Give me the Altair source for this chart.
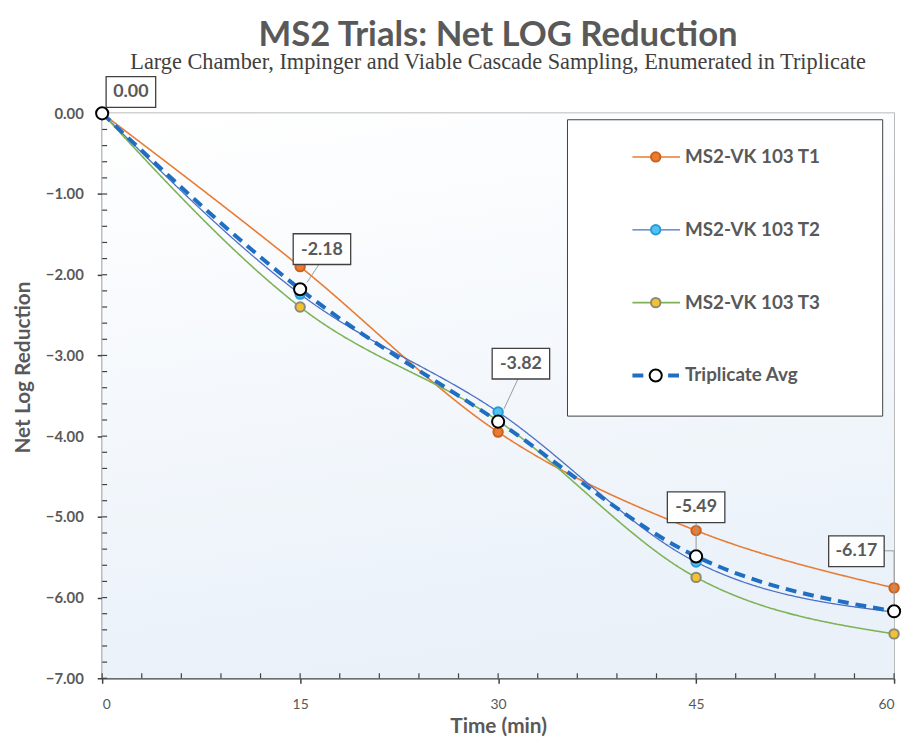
import altair as alt
import pandas as pd

# ---------------- data ----------------
times = [0, 15, 30, 45, 60]
t1 = [0.00, -1.90, -3.95, -5.17, -5.88]
t2 = [0.00, -2.24, -3.70, -5.56, -6.18]
t3 = [0.00, -2.40, -3.81, -5.75, -6.45]
avg = [0.00, -2.18, -3.82, -5.49, -6.17]
series = ["MS2-VK 103 T1", "MS2-VK 103 T2", "MS2-VK 103 T3", "Triplicate Avg"]
x_ticks = [0, 15, 30, 45, 60]
x_minor = [3, 6, 9, 12, 18, 21, 24, 27, 33, 36, 39, 42, 48, 51, 54, 57]
y_ticks = [0, -1, -2, -3, -4, -5, -6, -7]
y_minor = [t - k * 0.2 for t in y_ticks[:-1] for k in (1, 2, 3, 4)]

title_text = "MS2 Trials: Net LOG Reduction"
subtitle_text = "Large Chamber, Impinger and Viable Cascade Sampling, Enumerated in Triplicate"

# ---------------- styles ----------------
W, H = 799, 570
line_colors = ["#E97B33", "#4A6FC4", "#7DB356", "#1F6EC2"]
line_widths = [1.6, 1.3, 1.6, 4.0]
line_dashes = [[1, 0], [1, 0], [1, 0], [11, 7]]
marker_fill = ["#EC7B30", "#4CC3F2", "#F2C230", "#FFFFFF"]
marker_stroke = ["#C9611F", "#2A9BD6", "#8A8A7A", "#000000"]
marker_size = [90, 90, 90, 150]
FONT = "Lato"
GRAY = "#595959"
AXC = "#404040"

# label box / leader / text offsets (pixels relative to the point)
label_box = [(4, -37, 54, -6), (-7, -56, 51, -25), (-6, -74, 52, -43),
             (-29, -65, 29, -34), (-66, -76, -10, -45)]
label_leader = [None, "M19,-25L7,-7", "M20,-43L6,-13", "M0,-34L0,-7",
                "M-10,-61L0,-61L0,-7"]
label_text_off = [(29, -21), (22, -40), (23, -58.5), (0, -49.5), (-38, -60.5)]

rows = []
for name, vals in zip(series, [t1, t2, t3, avg]):
    for t, v in zip(times, vals):
        rows.append({"series": name, "time": t, "value": v})
df = pd.DataFrame(rows)

x_axis = alt.Axis(values=x_ticks, title="Time (min)", labelFontWeight="normal",
                  labelFontSize=14, labelPadding=15, titleFontSize=21, titlePadding=4,
                  tickSize=5)
y_axis = alt.Axis(values=y_ticks, format=".2f", title="Net Log Reduction",
                  labelFontWeight="bold", labelFontSize=15, labelPadding=14,
                  titleFontSize=21, titlePadding=12, titleY=256, tickSize=5)

x_enc = alt.X("time:Q", scale=alt.Scale(domain=[0, 60], nice=False, zero=False), axis=x_axis)
y_enc = alt.Y("value:Q", scale=alt.Scale(domain=[-7, 0], nice=False), axis=y_axis)

common_legend = dict(orient="none", labelFont=FONT, labelFontSize=19, labelFontWeight="bold",
                     labelLimit=400, rowPadding=54.5, clipHeight=16)
legend_a = alt.Legend(legendX=469, legendY=6, title=" ", titleOrient="right",
                      titlePadding=32, padding=30, strokeColor=AXC, fillColor="white",
                      symbolType="stroke", symbolSize=2304, symbolOffset=34,
                      labelColor=GRAY, labelOffset=3, **common_legend)
legend_b = alt.Legend(legendX=549, legendY=36, title=None, padding=0,
                      symbolType="circle", symbolStrokeWidth=2, labelExpr="''",
                      **common_legend)

gradient = alt.LinearGradient(
    gradient="linear",
    stops=[alt.GradientStop(color="#FFFFFF", offset=0),
           alt.GradientStop(color="#EAF1F9", offset=1)],
    x1=0, x2=0.2, y1=0, y2=1)

bg = alt.Chart(pd.DataFrame({"a": [0]})).mark_rect(fill=gradient).encode(
    x=alt.datum(0), x2=alt.datum(60), y=alt.datum(0), y2=alt.datum(-7))

xminor = alt.Chart(pd.DataFrame({"t": x_minor + x_ticks})).mark_rule(
    color=AXC, strokeWidth=1.2).encode(x="t:Q", y=alt.value(H - 5), y2=alt.value(H))
yminor = alt.Chart(pd.DataFrame({"v": y_minor + y_ticks})).mark_rule(
    color=AXC, strokeWidth=1.2).encode(y="v:Q", x=alt.value(0), x2=alt.value(5))

lines = alt.Chart(df).mark_line(interpolate="monotone").encode(
    x=x_enc, y=y_enc,
    stroke=alt.Stroke("series:N", scale=alt.Scale(domain=series, range=line_colors), legend=legend_a),
    strokeDash=alt.StrokeDash("series:N", scale=alt.Scale(domain=series, range=line_dashes), legend=legend_a),
    strokeWidth=alt.StrokeWidth("series:N", scale=alt.Scale(type="ordinal", domain=series, range=line_widths), legend=legend_a),
)

points = alt.Chart(df).mark_point(filled=True, opacity=1, strokeWidth=2).encode(
    x="time:Q", y="value:Q",
    fill=alt.Fill("series:N", scale=alt.Scale(domain=series, range=marker_fill), legend=legend_b),
    stroke=alt.Stroke("series:N", scale=alt.Scale(domain=series, range=marker_stroke), legend=legend_b),
    size=alt.Size("series:N", scale=alt.Scale(type="ordinal", domain=series, range=marker_size), legend=legend_b),
)

label_layers = []
for i in range(len(times)):
    d = pd.DataFrame({"time": [times[i]], "value": [avg[i]], "label": [f"{avg[i]:.2f}"]})
    x0, y0, x1, y1 = label_box[i]
    box_path = f"M{x0},{y0}H{x1}V{y1}H{x0}Z"
    if label_leader[i]:
        label_layers.append(alt.Chart(d).mark_point(
            shape=label_leader[i], size=4, filled=False, stroke="#9A9A9A",
            strokeWidth=1, opacity=1).encode(x="time:Q", y="value:Q"))
    label_layers.append(alt.Chart(d).mark_point(
        shape=box_path, size=4, filled=True, fill="white", stroke=AXC,
        strokeWidth=1.3, opacity=1).encode(x="time:Q", y="value:Q"))
    label_layers.append(alt.Chart(d).mark_text(
        dx=label_text_off[i][0], dy=label_text_off[i][1], font=FONT, fontSize=18,
        fontWeight="bold", color=GRAY, align="center", baseline="middle").encode(
        x="time:Q", y="value:Q", text="label:N"))

chart = alt.layer(bg, lines, xminor, yminor, points, *label_layers).resolve_scale(
    stroke="independent", strokeDash="independent", strokeWidth="independent",
    fill="independent", size="independent"
).properties(
    width=W, height=H,
    autosize=alt.AutoSizeParams(type="none"),
    padding={"left": 95, "top": 103, "right": 9, "bottom": 57},
    title=alt.TitleParams(text=title_text, subtitle=subtitle_text, font=FONT, fontSize=35,
                          fontWeight="bold", color=GRAY, subtitleFont="Liberation Serif",
                          subtitleFontSize=22.5, subtitleColor="#404040", anchor="middle",
                          offset=1, subtitlePadding=-2),
).configure_view(
    stroke="#A6A6A6", strokeWidth=1.5
).configure_axis(
    labelFont=FONT, titleFont=FONT, labelColor=GRAY, titleColor=GRAY,
    titleFontWeight="bold", domainColor=AXC, domainWidth=1.5, tickColor=AXC,
    tickWidth=1.5, grid=False
)

chart.save("out.html", embed_options={"renderer": "svg", "actions": False})
